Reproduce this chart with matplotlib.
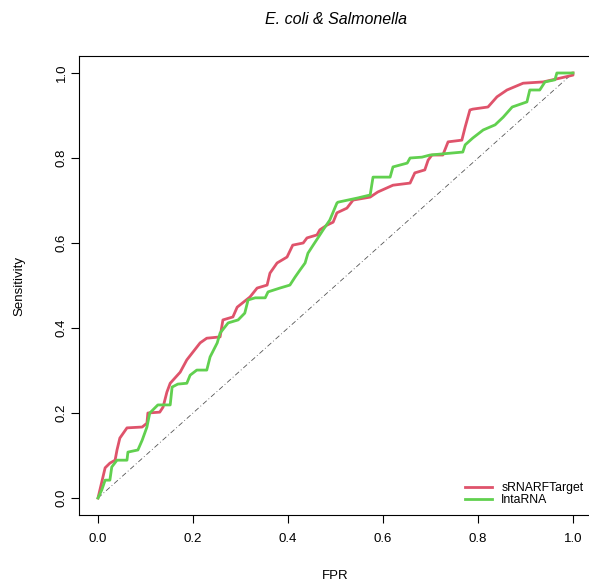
import matplotlib.pyplot as plt

# ROC curve points (FPR, sensitivity)
rf_fpr = [0.0, 0.015, 0.025, 0.036, 0.040, 0.046, 0.061, 0.093, 0.103, 0.105, 0.130, 0.137,
          0.145, 0.152, 0.173, 0.187, 0.215, 0.229, 0.257, 0.263, 0.284, 0.293, 0.320, 0.335,
          0.356, 0.362, 0.377, 0.398, 0.410, 0.432, 0.440, 0.461, 0.467, 0.482, 0.495, 0.503,
          0.524, 0.537, 0.573, 0.589, 0.621, 0.657, 0.667, 0.688, 0.695, 0.703, 0.726, 0.737,
          0.766, 0.773, 0.783, 0.789, 0.821, 0.840, 0.861, 0.895, 0.937, 0.973, 1.0, 1.0]
rf_sens = [0.0, 0.071, 0.082, 0.089, 0.113, 0.141, 0.165, 0.167, 0.176, 0.200, 0.202, 0.214,
           0.249, 0.270, 0.296, 0.325, 0.365, 0.376, 0.379, 0.419, 0.426, 0.449, 0.473, 0.494,
           0.501, 0.529, 0.553, 0.567, 0.595, 0.600, 0.612, 0.619, 0.631, 0.642, 0.649, 0.671,
           0.682, 0.701, 0.708, 0.720, 0.736, 0.741, 0.765, 0.772, 0.795, 0.807, 0.807, 0.838,
           0.842, 0.873, 0.913, 0.915, 0.920, 0.944, 0.960, 0.976, 0.979, 0.988, 0.995, 1.0]

ia_fpr = [0.0, 0.008, 0.015, 0.025, 0.029, 0.040, 0.061, 0.063, 0.084, 0.093, 0.103, 0.109,
          0.126, 0.152, 0.156, 0.168, 0.187, 0.194, 0.208, 0.229, 0.236, 0.251, 0.257, 0.274,
          0.295, 0.309, 0.316, 0.331, 0.352, 0.358, 0.383, 0.404, 0.415, 0.425, 0.436, 0.442,
          0.453, 0.463, 0.474, 0.488, 0.503, 0.505, 0.547, 0.573, 0.579, 0.615, 0.621, 0.651,
          0.657, 0.682, 0.699, 0.768, 0.773, 0.789, 0.811, 0.836, 0.853, 0.872, 0.903, 0.909,
          0.930, 0.941, 0.962, 0.966, 1.0]
ia_sens = [0.0, 0.019, 0.042, 0.042, 0.073, 0.089, 0.089, 0.108, 0.113, 0.136, 0.167, 0.200,
           0.219, 0.219, 0.261, 0.268, 0.270, 0.289, 0.301, 0.301, 0.332, 0.365, 0.388, 0.412,
           0.419, 0.435, 0.466, 0.471, 0.471, 0.485, 0.494, 0.501, 0.520, 0.536, 0.553, 0.576,
           0.595, 0.612, 0.631, 0.654, 0.694, 0.696, 0.706, 0.713, 0.755, 0.755, 0.779, 0.788,
           0.800, 0.802, 0.807, 0.814, 0.831, 0.847, 0.866, 0.878, 0.896, 0.920, 0.932, 0.960,
           0.960, 0.979, 0.984, 1.0, 1.0]

ticks = [0.0, 0.2, 0.4, 0.6, 0.8, 1.0]
tick_labels = ["0.0", "0.2", "0.4", "0.6", "0.8", "1.0"]

plt.rcParams['font.family'] = ['Liberation Sans', 'DejaVu Sans']

fig = plt.figure(figsize=(5.89, 5.85), dpi=100)
ax = fig.add_axes([79 / 589, 1 - 515 / 585, 513 / 589, 459 / 585])

ax.plot([0, 1], [0, 1], color='#555555', lw=0.6, ls=(0, (6, 3, 1, 3)))
ax.plot(rf_fpr, rf_sens, color='#DF536B', lw=2.0, label='sRNARFTarget')
ax.plot(ia_fpr, ia_sens, color='#61D04F', lw=2.0, label='IntaRNA')

ax.set_xlim(-0.04, 1.04)
ax.set_ylim(-0.04, 1.04)
ax.set_xticks(ticks)
ax.set_xticklabels(tick_labels, fontsize=9.5)
ax.set_yticks(ticks)
ax.set_yticklabels(tick_labels, fontsize=9.5, rotation=90, va='center')
ax.tick_params(direction='out', length=6, width=0.8)
ax.tick_params(axis='x', pad=7)
ax.tick_params(axis='y', pad=2)
ax.spines['right'].set_visible(False)
for s in ax.spines.values():
    s.set_linewidth(0.8)

ax.set_xlabel('FPR', fontsize=9.5, labelpad=18)
ax.set_ylabel('Sensitivity', fontsize=9.5, labelpad=22)
fig.text(336 / 589, 1 - 20 / 585, 'E. coli & Salmonella', fontsize=11.5, style='italic',
         ha='center', va='center')

ax.legend(loc='lower right', frameon=False, fontsize=8.8, handlelength=2.2,
          labelspacing=0.05, borderaxespad=0.3, handletextpad=0.8,
          bbox_to_anchor=(1.0, 0.0))

fig.savefig('out.png', dpi=100)
